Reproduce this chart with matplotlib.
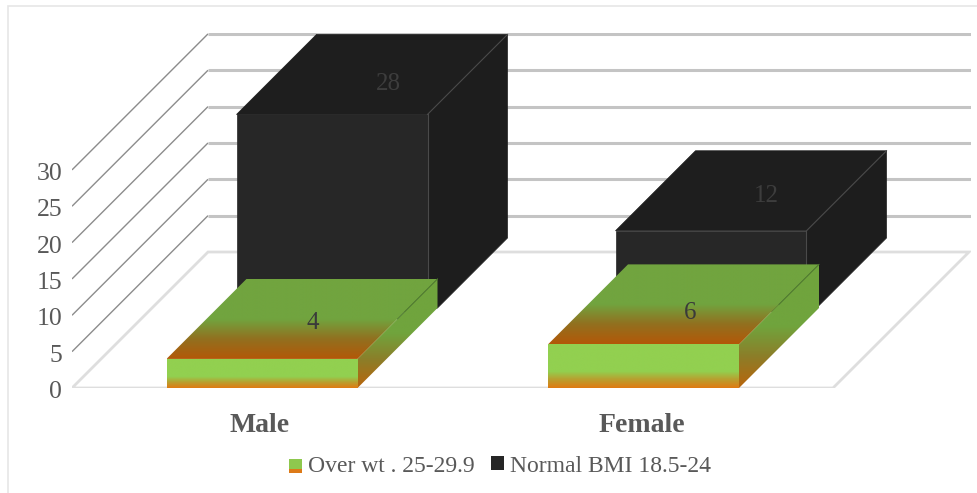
import numpy as np
import matplotlib
matplotlib.use('Agg')
import matplotlib.pyplot as plt
from matplotlib.colors import LinearSegmentedColormap
from matplotlib.legend_handler import HandlerBase
from matplotlib.patches import Polygon, Rectangle, Patch
from matplotlib.transforms import ScaledTranslation

# Data
categories = ['Male', 'Female']
over_wt = [4, 6]
normal_bmi = [28, 12]
y_ticks = [0, 5, 10, 15, 20, 25, 30]
legend_labels = ['Over wt . 25-29.9', 'Normal BMI 18.5-24']

plt.rcParams['font.family'] = ['Liberation Serif', 'DejaVu Serif']

W, H = 977, 493
PX_PER_VALUE = 7.27
PX_PER_CAT = 381.5
BLACK_STEP = 379 / 381.5  # back row sits a little closer together
BAR_W = 191 / PX_PER_CAT
FLOOR_DEPTH = 136

# data label placement on the top faces: depth in px, then x shift in points
back_label_depth = [100, 105]
back_label_shift = [18.7, 14.4]
front_label_depth = [36, 31.5]
front_label_shift = [10.8, 10.8]

# axes box in pixels: floor front-left corner to top-right of the back wall
left, right, bottom, top = 72, 971, 388, 33

fig = plt.figure(figsize=(W / 100, H / 100), dpi=100, facecolor='white')
ax = fig.add_axes([left / W, 1 - bottom / H, (right - left) / W, (bottom - top) / H])
ax.patch.set_visible(False)
for s in ax.spines.values():
    s.set_visible(False)


def pr(x, v, d=0):
    # oblique projection: depth d (px) goes up and to the right by the same amount
    return x + d / PX_PER_CAT, v + d / PX_PER_VALUE


def gradient_face(pts, stops, z):
    # vertical gradient clipped to a polygon
    xs = [p[0] for p in pts]
    ys = [p[1] for p in pts]
    cmap = LinearSegmentedColormap.from_list('g', stops)
    im = ax.imshow(np.linspace(0, 1, 256).reshape(-1, 1), cmap=cmap, aspect='auto',
                   extent=(min(xs), max(xs), min(ys), max(ys)), origin='upper', zorder=z,
                   interpolation='bilinear')
    im.set_clip_path(Polygon(pts, closed=True, transform=ax.transData))


def box_points(cat, val, d0, d1):
    x0, x1 = cat - BAR_W / 2, cat + BAR_W / 2
    front = [pr(x0, 0, d0), pr(x1, 0, d0), pr(x1, val, d0), pr(x0, val, d0)]
    tp = [pr(x0, val, d0), pr(x1, val, d0), pr(x1, val, d1), pr(x0, val, d1)]
    side = [pr(x1, 0, d0), pr(x1, 0, d1), pr(x1, val, d1), pr(x1, val, d0)]
    return front, tp, side


# floor
wall_x0 = (left - 262) / PX_PER_CAT
wall_x1 = (right - 262) / PX_PER_CAT
floor_x1 = (833 - 262) / PX_PER_CAT
fl = [pr(wall_x0, 0), pr(floor_x1, 0), pr(floor_x1, 0, FLOOR_DEPTH), pr(wall_x0, 0, FLOOR_DEPTH)]
ax.add_patch(Polygon(fl, closed=True, facecolor='white', edgecolor='#dedede', lw=2, zorder=1))

# walls
for t in y_ticks[1:]:
    p0 = pr(wall_x0, t)
    p1 = pr(wall_x0, t, FLOOR_DEPTH)
    ax.plot([p0[0], p1[0]], [p0[1], p1[1]], color='#8c8c8c', lw=1, zorder=1, solid_capstyle='butt')
    ax.plot([p1[0], wall_x1], [p1[1], p1[1]], color='#c4c4c4', lw=2.2, zorder=1, solid_capstyle='butt')

# Normal BMI boxes at the back
for i, v in enumerate(normal_bmi):
    cat = i * BLACK_STEP
    x1 = cat + BAR_W / 2
    front, tp, side = box_points(cat, v, 70, 150)
    # bottom corners are hidden by the front box, pull them in so they don't poke out
    front[0] = pr(cat - BAR_W / 2, 1, 70)
    front[1] = pr(x1, 1, 70)
    side = [pr(x1, 1, 70), pr(x1, 0, 80)] + side[1:]
    ax.add_patch(Polygon(side, closed=True, facecolor='#1d1d1d', edgecolor='#1d1d1d', lw=0.5, zorder=2))
    ax.add_patch(Polygon(tp, closed=True, facecolor='#1e1e1e', edgecolor='#1e1e1e', lw=0.5, zorder=2))
    ax.add_patch(Polygon(front, closed=True, facecolor='#272727', edgecolor='#272727', lw=0.5, zorder=2))
    ax.plot([front[2][0], front[2][0]], [front[1][1] + 1, front[2][1]], color='#4a4a4a', lw=0.8, zorder=3)
    ax.plot([tp[1][0], tp[2][0]], [tp[1][1], tp[2][1]], color='#4a4a4a', lw=0.8, zorder=3)
    ax.annotate(str(v), pr(cat, v, back_label_depth[i]), xytext=(back_label_shift[i], 0),
                textcoords='offset points', ha='center', va='center',
                fontsize=18, color='#3d3d3d', zorder=4)

# Over wt boxes at the front
for i, v in enumerate(over_wt):
    front, tp, side = box_points(i, v, 0, 80)
    gradient_face(front, [(0, '#92d050'), (0.62, '#92d050'), (0.8, '#b8a030'), (1, '#e07a12')], 5)
    gradient_face(tp, [(0, '#71a43f'), (0.5, '#71a43f'), (0.75, '#92701f'), (1, '#b35808')], 5)
    gradient_face(side, [(0, '#70a43d'), (0.5, '#70a43d'), (0.75, '#8d7d28'), (1, '#b9650c')], 5)
    ax.plot([tp[2][0], (tp[1][0] + tp[2][0]) / 2], [tp[2][1], (tp[1][1] + tp[2][1]) / 2],
            color='#4f7a30', lw=0.7, zorder=6)
    ax.annotate(str(v), pr(i, v, front_label_depth[i]), xytext=(front_label_shift[i], 0),
                textcoords='offset points', ha='center', va='center',
                fontsize=18, color='#3a3a3a', zorder=7)

ax.set_xlim((left - 262) / PX_PER_CAT, (right - 262) / PX_PER_CAT)
ax.set_ylim(0, (bottom - top) / PX_PER_VALUE)

ax.set_yticks(y_ticks)
ax.set_xticks(range(len(categories)))
ax.set_xticklabels(categories, fontsize=20, fontweight='bold', color='#595959')
ax.tick_params(axis='y', length=0, pad=7, labelsize=18.5, labelcolor='#595959')
ax.tick_params(axis='x', length=0, pad=18)
for lab in ax.get_xticklabels():
    lab.set_transform(lab.get_transform() + ScaledTranslation(-2 / 100, 0, fig.dpi_scale_trans))
for lab in ax.get_yticklabels():
    lab.set_transform(lab.get_transform() + ScaledTranslation(0, -1.5 / 100, fig.dpi_scale_trans))


class GradientHandle(HandlerBase):
    # legend swatch: green on top, orange on the bottom
    def create_artists(self, legend, orig, xd, yd, w, h, fontsize, trans):
        return [Rectangle((xd, yd + h * 0.28), w, h * 0.72, facecolor='#8ec84e', edgecolor='none', transform=trans),
                Rectangle((xd, yd), w, h * 0.28, facecolor='#dd7a18', edgecolor='none', transform=trans)]


handles = [Patch(label=legend_labels[0]), Patch(facecolor='#262626', edgecolor='none', label=legend_labels[1])]
fig.legend(handles=handles, loc='center', bbox_to_anchor=(500 / W, 1 - 466 / H), ncol=2, frameon=False,
           fontsize=17, labelcolor='#595959', handlelength=0.55, handleheight=0.55, handletextpad=0.25,
           columnspacing=0.68, borderpad=0, handler_map={handles[0]: GradientHandle()})

# chart frame
fig.add_artist(Rectangle((7.5 / W, -0.01), 1.1, 1 - 5.5 / H + 0.01, transform=fig.transFigure, facecolor='none',
                         edgecolor='#e6e6e6', lw=1.2))

fig.savefig('out.png', dpi=100)
